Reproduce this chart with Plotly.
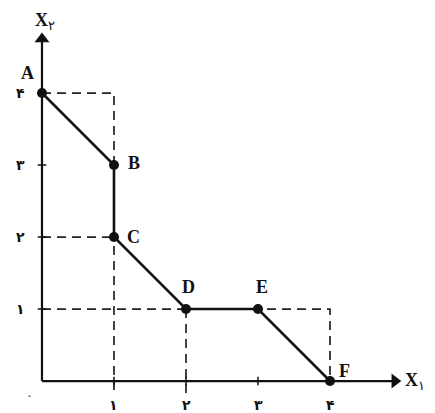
import plotly.graph_objects as go

# feasible-region corner points (X1, X2)
point_labels = ["A", "B", "C", "D", "E", "F"]
x1_values = [0, 1, 1, 2, 3, 4]
x2_values = [4, 3, 2, 1, 1, 0]

# dashed guide lines
guide_x = [[0, 1, 1], [0, 1], [0, 4, 4], [2, 2]]
guide_y = [[4, 4, -0.2], [2, 2], [1, 1, 0], [1, -0.2]]

tick_values = [1, 2, 3, 4]
tick_labels = ["۱", "۲", "۳", "۴"]
origin_label = "۰"

axis_x_end = 4.9
axis_y_end = 4.75

label_offsets = {
    "A": (-14, 20), "B": (20, 2), "C": (20, 0),
    "D": (2, 22), "E": (4, 22), "F": (14, 10),
}

fig = go.Figure()

for gx, gy in zip(guide_x, guide_y):
    fig.add_trace(go.Scatter(
        x=gx, y=gy, mode="lines",
        line={"color": "#222", "width": 1.7, "dash": "9px,6px"},
        hoverinfo="skip", showlegend=False,
    ))

# axes
fig.add_trace(go.Scatter(
    x=[0, axis_x_end], y=[0, 0], mode="lines",
    line={"color": "#111", "width": 2.2}, hoverinfo="skip", showlegend=False,
))
fig.add_trace(go.Scatter(
    x=[0, 0], y=[0, axis_y_end], mode="lines",
    line={"color": "#111", "width": 2.2}, hoverinfo="skip", showlegend=False,
))
fig.add_trace(go.Scatter(
    x=[axis_x_end, 0], y=[0, axis_y_end], mode="markers",
    marker={"symbol": ["triangle-right", "triangle-up"], "size": 13, "color": "#111"},
    hoverinfo="skip", showlegend=False,
))

fig.add_trace(go.Scatter(
    x=x1_values, y=x2_values, mode="lines+markers",
    line={"color": "#111", "width": 2.6},
    marker={"color": "#111", "size": 10},
    showlegend=False,
))

font_serif = {"family": "Liberation Serif", "size": 18, "color": "#111"}
font_digits = {"family": "DejaVu Sans", "size": 14, "color": "#111"}

annotations = []
for name, px, py in zip(point_labels, x1_values, x2_values):
    dx, dy = label_offsets[name]
    annotations.append(dict(
        x=px, y=py, text=f"<b>{name}</b>", showarrow=False,
        xshift=dx, yshift=dy, font=font_serif,
    ))

annotations.append(dict(x=5.18, y=0, text="<b>X</b><sub>۱</sub>", showarrow=False,
                        font=font_serif))
annotations.append(dict(x=0.04, y=5.0, text="<b>X</b><sub>۲</sub>", showarrow=False,
                        font=font_serif))

for tv, tl in zip(tick_values, tick_labels):
    annotations.append(dict(x=tv, y=-0.33, text=f"<b>{tl}</b>", showarrow=False,
                            font=font_digits))
    annotations.append(dict(x=-0.3, y=tv, text=f"<b>{tl}</b>", showarrow=False,
                            font=font_digits))
    fig.add_shape(type="line", x0=tv, x1=tv, y0=-0.06, y1=0.06,
                  line={"color": "#111", "width": 1.5})
    fig.add_shape(type="line", x0=-0.06, x1=0.06, y0=tv, y1=tv,
                  line={"color": "#111", "width": 1.5})
annotations.append(dict(x=-0.17, y=-0.2, text=origin_label, showarrow=False,
                        font={"family": "DejaVu Sans", "size": 13, "color": "#444"}))

fig.update_layout(
    width=427, height=405,
    margin={"l": 0, "r": 0, "t": 0, "b": 0},
    plot_bgcolor="white", paper_bgcolor="white",
    annotations=annotations,
)
fig.update_xaxes(range=[-0.472, 5.458], visible=False)
fig.update_yaxes(range=[-0.444, 5.181], visible=False)

fig.write_html("out.html")
